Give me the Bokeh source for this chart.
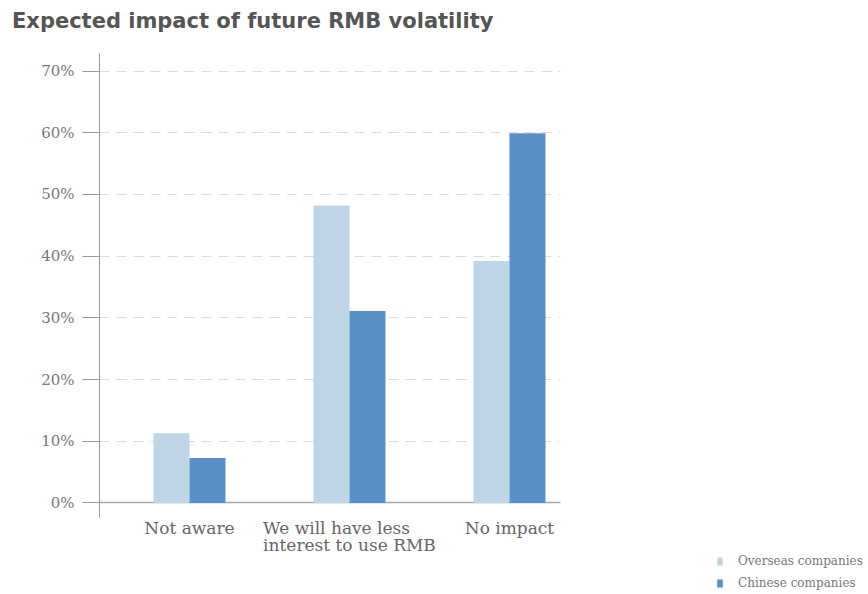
from bokeh.plotting import figure
from bokeh.models import (ColumnDataSource, FixedTicker, Grid, Legend, LegendItem,
                          NumeralTickFormatter, LabelSet, Div)
from bokeh.layouts import column
from bokeh.core.properties import value
from bokeh.transform import dodge
from bokeh.embed import file_html
from bokeh.resources import INLINE

title_text = "Expected impact of future RMB volatility"
categories = ["Not aware", "We will have less\ninterest to use RMB", "No impact"]
overseas = [0.113, 0.482, 0.392]
chinese = [0.073, 0.311, 0.599]
series_names = ["Overseas companies", "Chinese companies"]
colors = ["#bfd4e7", "#5b8fc7"]
y_ticks = [0, 0.1, 0.2, 0.3, 0.4, 0.5, 0.6, 0.7]

src = ColumnDataSource(dict(x=list(range(len(categories))), overseas=overseas, chinese=chinese,
                            label=categories, zero=[0] * len(categories)))

title_h = 40
x_start, x_end_plot, x_end_frame = -0.5625, 2.319, 4.244
y_bottom, y_axis_bottom, y_top = -0.1483, -0.0235, 0.7284
p = figure(width=868, height=594 - title_h, output_backend="svg", toolbar_location=None,
           x_range=(x_start, x_end_frame), y_range=(y_bottom, y_top),
           x_axis_location=None,
           min_border_left=99, min_border_right=0, min_border_top=53 - title_h, min_border_bottom=0)
p.outline_line_color = None
p.background_fill_color = "white"

bw = 0.225
r1 = p.vbar(x=dodge("x", -bw / 2), top="overseas", bottom=0, width=bw, source=src,
            fill_color=colors[0], line_color=None)
r2 = p.vbar(x=dodge("x", bw / 2), top="chinese", bottom=0, width=bw, source=src,
            fill_color=colors[1], line_color=None)

# title as a heading above the figure
title = Div(text=title_text, width=868, height=title_h, margin=(0, 0, 0, 0),
            styles={"font-family": "DejaVu Sans", "font-weight": "bold", "font-size": "21px",
                    "color": "#555555", "padding-left": "12px", "padding-top": "9px",
                    "line-height": "1.15", "box-sizing": "border-box"})

# y axis
p.yaxis.ticker = FixedTicker(ticks=y_ticks)
p.yaxis.bounds = (y_axis_bottom, y_top)
p.yaxis.formatter = NumeralTickFormatter(format="0%")
p.yaxis.major_label_text_font = "DejaVu Serif"
p.yaxis.major_label_text_font_size = "15px"
p.yaxis.major_label_text_color = "#777777"
p.yaxis.axis_line_color = "#999999"
p.yaxis.major_tick_line_color = "#999999"
p.yaxis.major_tick_out = 17
p.yaxis.major_tick_in = 0
p.yaxis.minor_tick_line_color = None
p.yaxis.major_label_standoff = 8

# category labels under the baseline
labels = LabelSet(x="x", y="zero", text="label", source=src, y_offset=-15,
                  text_align="center", text_baseline="top",
                  text_font=value("DejaVu Serif"), text_font_size=value("17px"),
                  text_color="#666666", text_line_height=0.85)
p.add_layout(labels)

# grid
p.xgrid.grid_line_color = None
p.ygrid.ticker = FixedTicker(ticks=y_ticks[1:])
p.ygrid.grid_line_color = "#dddddd"
p.ygrid.grid_line_dash = "10 7"
p.ygrid.grid_line_width = 1
p.ygrid.cross_bounds = (x_start, x_end_plot)

# baseline at 0%
base = Grid(dimension=1, ticker=FixedTicker(ticks=[0]), cross_bounds=(x_start, x_end_plot),
            grid_line_color="#a8a8a8", grid_line_width=1.5)
p.add_layout(base)

legend = Legend(items=[LegendItem(label=series_names[0], renderers=[r1]),
                       LegendItem(label=series_names[1], renderers=[r2])],
                location=(617, 4))
legend.glyph_width = 7
legend.glyph_height = 10
legend.label_height = 10
legend.spacing = 8
legend.padding = 0
legend.margin = 0
legend.label_standoff = 15
legend.border_line_color = None
legend.background_fill_alpha = 0
legend.label_text_font = "DejaVu Serif"
legend.label_text_font_size = "12px"
legend.label_text_color = "#777777"
p.add_layout(legend, "center")

layout = column(title, p, spacing=0)
open("out.html", "w").write(file_html(layout, INLINE))
